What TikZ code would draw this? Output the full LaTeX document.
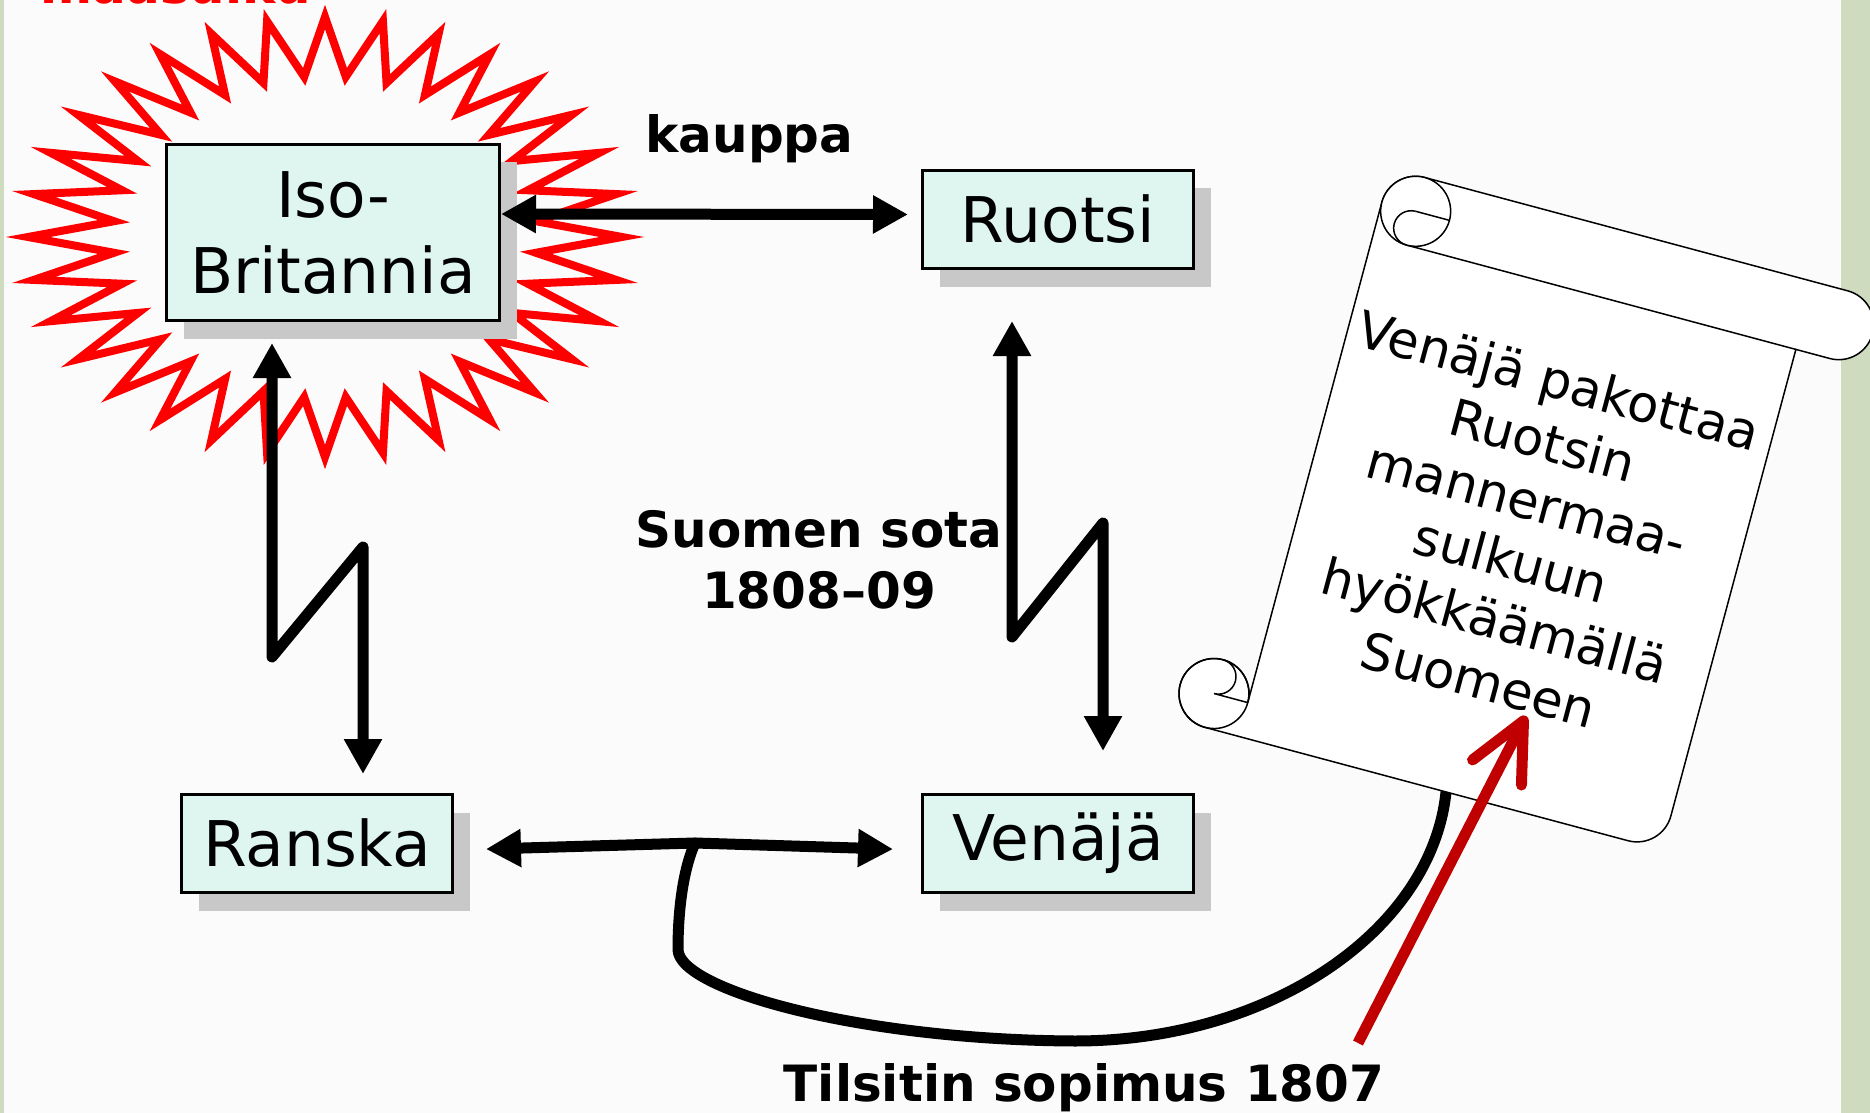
\documentclass[tikz,border=0pt]{standalone}
\usepackage{fontspec}
\setmainfont{DejaVu Sans}
\usepackage{tikz}
\usetikzlibrary{positioning,arrows.meta,shadows}
\definecolor{pastelcyan}{RGB}{222,245,240}
\definecolor{sombra}{RGB}{200,200,200}
\definecolor{fondo}{RGB}{251,251,251}
\definecolor{salvia}{RGB}{206,219,191}
\definecolor{granate}{RGB}{192,0,0}
\tikzset{caja/.style={draw, line width=1.5pt, fill=pastelcyan, inner sep=0pt,
        minimum width=135.5pt, minimum height=49pt, align=center,
        font=\fontsize{31.5pt}{38pt}\selectfont,
        drop shadow={shadow xshift=8.5pt, shadow yshift=-9pt, fill=sombra, opacity=1}}}
\tikzset{arista/.style={line width=5.5pt, line join=round, line cap=round}}
\tikzset{flecha/.style={arista, -{Triangle[length=17.5pt,width=18pt]}}}
\tikzset{doble/.style={arista, {Triangle[length=17.5pt,width=18pt]}-{Triangle[length=17.5pt,width=18pt]}}}
\tikzset{rotulo/.style={inner sep=0pt, align=center, font=\fontsize{25pt}{30.5pt}\selectfont\bfseries}}
\tikzset{pergamino/.style={line width=0.75pt, fill=white}}

\begin{document}
\begin{tikzpicture}[x=0.5pt, y=-0.5pt]
            \useasboundingbox (0,0) rectangle (1870,1113);
            \fill[fondo] (0,0) rectangle (1870,1113);
            \fill[salvia] (0,0) rectangle (3.5,1113);
            \fill[salvia] (1841,0) rectangle (1870,1113);

            \draw[red, line width=4pt] (325,17)
                \foreach \k in {0,...,30}{
                  -- ({325+212*cos(95.625+11.25*\k)},{237-161*sin(95.625+11.25*\k)})
                  -- ({325+297*cos(101.25+11.25*\k)},{237-220*sin(101.25+11.25*\k)})}
                -- ({325+212*cos(444.375)},{237-161*sin(444.375)}) -- cycle;

            \node[caja, minimum width=166.5pt, minimum height=88pt] (iso) at (333,232.5) {Iso-\\Britannia};
            \node[caja] (ven) at (1058,843.5) {Venäjä};
            \node[caja, above=261.5pt of ven] (ruo) {Ruotsi};
            \node[caja, left=233.5pt of ven] (ran) {Ranska};

            \node[rotulo, text=red, anchor=base west] (sulku) at (40,3.5) {maasulku};
            \node[rotulo, anchor=base] (kauppa) at (749.5,153) {kauppa};
            \node[rotulo, anchor=north] (sota) at (819,510) {Suomen sota\\1808–09};
            \node[rotulo, anchor=base] (tilsit) at (1084,1101) {Tilsitin sopimus 1807};

            \coordinate (t) at (695,843);
            \coordinate (c) at (1447,775);
            \draw[arista] (t) .. controls (683,870) and (678,910) .. (678,950)
                 .. controls (680,990) and (860,1040) .. (1075,1041)
                 .. controls (1280,1041) and (1445,920) .. (c);

            \begin{scope}[shift={(1540,520)}, rotate=-15, pergamino]
              \filldraw (-200,-301) -- (238,-301) arc[start angle=90, end angle=-90, radius=17.5pt]
                 -- (203,-231) -- (203,252) arc[start angle=0, end angle=-90, radius=17.5pt]
                 -- (-270,287) arc[start angle=-90, end angle=-360, radius=17.5pt]
                 -- (-235,-266) arc[start angle=180, end angle=90, radius=17.5pt] -- cycle;
              \draw (-200,-231) -- (203,-231);
              \filldraw (-200,-266) circle[radius=17.5pt];
              \draw (-200,-266) arc[start angle=90, end angle=270, radius=8.75pt];
              \draw (-200,-266) -- (-165,-266);
              \draw (-270,252) circle[radius=17.5pt];
              \draw (-270,217) arc[start angle=90, end angle=-90, radius=8.75pt] -- (-235,252);
            \end{scope}
            \node[rotate=-15, inner sep=0pt, align=center, font=\fontsize{25.5pt}{31pt}\selectfont] (carta) at (1519,530)
                {Venäjä pakottaa\\Ruotsin\\mannermaa-\\sulkuun\\hyökkäämällä\\Suomeen};

            \draw[doble, shorten >=6.5pt] ([yshift=9.25pt]iso.east) -- ([yshift=2.5pt]ruo.west);
            \draw[flecha, shorten >=16pt] (t) -- ([yshift=-3.25pt]ran.east);
            \draw[flecha, shorten >=14pt] (t) -- ([yshift=-3.25pt]ven.west);

            \coordinate (a1) at (272,657);
            \coordinate (a2) at (363,547);
            \draw[doble, shorten <=10.5pt, shorten >=9.5pt] (iso.south -| a1) -- (a1) -- (a2) -- (a2 |- ran.north);
            \coordinate (b1) at (1012,637);
            \coordinate (b2) at (1103,523);
            \draw[doble, shorten <=25.5pt, shorten >=21pt] (ruo.south -| b1) -- (b1) -- (b2) -- (b2 |- ven.north);

            \coordinate (cola) at (1358,1043);
            \coordinate (punta) at (1526,716);
            \draw[granate, line width=5.5pt, -{Straight Barb[length=29pt,width=27.5pt,round]}] (cola) -- (punta);
\end{tikzpicture}
\end{document}
